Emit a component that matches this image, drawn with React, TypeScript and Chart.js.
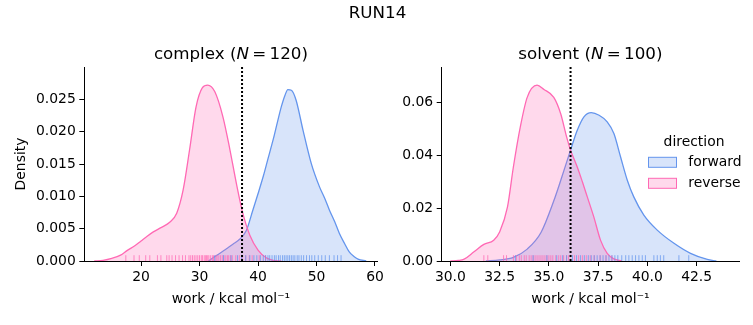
import React, { useEffect, useRef } from 'react';
import { Chart, registerables } from 'chart.js';

Chart.register(...registerables);

const FONT = 'DejaVu Sans';
const TICK_SIZE = 13.9;
const TITLE_SIZE = 16.7;
const BLUE = '#6495ED';
const PINK = '#FF69B4';
const BLUE_FILL = 'rgba(100,149,237,0.25)';
const PINK_FILL = 'rgba(255,105,180,0.25)';
const BLUE_RUG = 'rgba(100,149,237,0.75)';
const PINK_RUG = 'rgba(255,105,180,0.75)';

const directions = ['forward', 'reverse'];
const mainTitle = 'RUN14';
const xTitle = 'work / kcal mol\u207B\u00B9';

// ---------- complex panel ----------
const complexLabel = 'complex';
const complexN = 120;
const complexXRange = [10.3, 60.43];
const complexYMax = 0.03;
const complexXTicks = [20, 30, 40, 50, 60];
const complexYTicks = [0, 0.005, 0.01, 0.015, 0.02, 0.025];
const complexEstimate = 37.27;

const complexFwdX = [31.5, 32.3, 33.5, 34.6, 35.7, 36.9, 38.0, 39.1, 40.0, 40.9, 41.7, 42.6, 43.3, 44.0, 44.6, 45.1, 45.7, 46.5, 47.7, 49.1, 50.5, 51.4, 52.2, 53.1, 53.9, 54.8, 55.6, 56.4, 57.1, 58.5];
const complexFwdY = [0, 0.0005, 0.0012, 0.0019, 0.0026, 0.0034, 0.0047, 0.0078, 0.0104, 0.0131, 0.0158, 0.0188, 0.0214, 0.0239, 0.0256, 0.0265, 0.0264, 0.0249, 0.0202, 0.0151, 0.0115, 0.0097, 0.0079, 0.0061, 0.0043, 0.0027, 0.0014, 0.0007, 0.0003, 0];

const complexRevX = [12.0, 13.5, 15.0, 16.5, 17.6, 19.0, 20.0, 21.0, 22.1, 23.5, 24.9, 26.1, 27.2, 28.3, 29.4, 30.5, 31.4, 32.6, 34.0, 35.2, 36.3, 37.4, 38.6, 40.0, 41.4, 42.6, 44.0];
const complexRevY = [0, 0.0001, 0.0004, 0.0009, 0.0016, 0.0024, 0.0031, 0.0038, 0.0045, 0.0052, 0.0060, 0.0074, 0.0110, 0.0172, 0.0238, 0.0268, 0.0272, 0.0262, 0.0223, 0.0172, 0.0120, 0.0074, 0.0040, 0.0017, 0.0005, 0.0001, 0];

const complexFwdRug = [32.6, 34.1, 35.4, 36.5, 37.2, 37.9, 38.6, 39.3, 39.8, 40.4, 40.9, 41.3, 41.7, 42.0, 42.4, 42.8, 43.1, 43.5, 43.8, 44.2, 44.5, 44.8, 45.1, 45.4, 45.7, 46.0, 46.3, 46.7, 47.0, 47.4, 47.8, 48.3, 48.8, 49.2, 49.7, 50.3, 50.9, 51.5, 52.2, 53.0, 53.6, 54.2];
const complexRevRug = [17.4, 18.8, 19.7, 20.8, 21.5, 22.8, 23.4, 24.4, 24.8, 25.3, 25.9, 26.5, 27.1, 27.6, 28.2, 28.5, 28.8, 29.1, 29.4, 29.7, 30.0, 30.3, 30.5, 30.8, 31.0, 31.2, 31.4, 31.6, 31.9, 32.2, 32.4, 32.8, 33.0, 33.3, 33.6, 33.9, 34.2, 34.5, 34.8, 35.0, 35.3, 35.6, 36.2, 36.8, 37.3, 37.9, 38.5, 39.0, 40.2, 41.3];

// ---------- solvent panel ----------
const solventLabel = 'solvent';
const solventN = 100;
const solventXRange = [29.56, 44.65];
const solventYMax = 0.0735;
const solventXTicks = [30, 32.5, 35, 37.5, 40, 42.5];
const solventYTicks = [0, 0.02, 0.04, 0.06];
const solventEstimate = 36.1;

const solventFwdX = [31.8, 32.5, 33.2, 33.9, 34.6, 35.25, 35.6, 36.1, 36.44, 36.78, 37.15, 37.55, 37.96, 38.3, 38.64, 38.98, 39.31, 39.82, 40.5, 41.35, 42.19, 43.04, 43.5];
const solventFwdY = [0, 0.0004, 0.0014, 0.0045, 0.0108, 0.0228, 0.0305, 0.0420, 0.0495, 0.0546, 0.0562, 0.0552, 0.0527, 0.0483, 0.0394, 0.0306, 0.0243, 0.0174, 0.0117, 0.0067, 0.0029, 0.0006, 0];

const solventRevX = [30.0, 30.4, 30.7, 31.2, 31.7, 32.2, 32.5, 32.9, 33.2, 33.55, 33.9, 34.4, 34.75, 35.25, 35.6, 35.9, 36.1, 36.44, 36.7, 36.95, 37.28, 37.62, 37.96, 38.3, 38.7];
const solventRevY = [0, 0.0002, 0.0007, 0.0035, 0.0063, 0.0079, 0.0110, 0.0205, 0.0357, 0.0508, 0.0620, 0.0666, 0.0650, 0.0620, 0.0558, 0.0470, 0.0420, 0.0356, 0.0300, 0.0243, 0.0167, 0.0079, 0.0029, 0.0008, 0];

const solventFwdRug = [33.3, 34.2, 34.9, 35.4, 35.7, 35.9, 36.2, 36.4, 36.6, 36.8, 37.0, 37.15, 37.3, 37.45, 37.6, 37.75, 37.9, 38.05, 38.2, 38.35, 38.5, 38.7, 38.9, 39.06, 39.23, 39.4, 39.57, 39.74, 39.9, 40.33, 40.5, 40.66, 40.83, 41.6, 42.1];
const solventRevRug = [31.7, 31.9, 32.7, 32.85, 33.2, 33.35, 33.5, 33.6, 33.75, 33.85, 34.0, 34.1, 34.2, 34.3, 34.4, 34.5, 34.6, 34.7, 34.8, 34.9, 35.0, 35.1, 35.2, 35.35, 35.5, 35.6, 35.75, 35.9, 36.0, 36.3, 36.5, 36.7, 36.9, 37.1, 37.3, 37.6, 37.9, 38.2];

type Panel = {
  label: string;
  n: number;
  xRange: number[];
  yMax: number;
  xTicks: number[];
  yTicks: number[];
  xDecimals: number;
  yDecimals: number;
  estimate: number;
  fwdX: number[];
  fwdY: number[];
  revX: number[];
  revY: number[];
  fwdRug: number[];
  revRug: number[];
  padding: { left: number; right: number; top: number; bottom: number };
  yAxisWidth: number;
  showYTitle: boolean;
  showLegend: boolean;
};

const pts = (xs: number[], ys: number[]) => xs.map((x, i) => ({ x, y: ys[i] }));

function drawSegments(ctx: CanvasRenderingContext2D, segs: { t: string; italic?: boolean }[], cx: number, y: number, size: number) {
  const fonts = segs.map((s) => `${s.italic ? 'italic ' : ''}${size}px "${FONT}"`);
  const widths = segs.map((s, i) => {
    ctx.font = fonts[i];
    return ctx.measureText(s.t).width;
  });
  const total = widths.reduce((a, b) => a + b, 0);
  let x = cx - total / 2;
  ctx.textAlign = 'left';
  ctx.textBaseline = 'alphabetic';
  ctx.fillStyle = '#000';
  segs.forEach((s, i) => {
    ctx.font = fonts[i];
    ctx.fillText(s.t, x, y);
    x += widths[i];
  });
}

function makeConfig(p: Panel): any {
  const tickFont = { family: FONT, size: TICK_SIZE };
  const rugY = p.yMax * 0.015;
  const rugStyle = {
    type: 'line',
    showLine: false,
    pointStyle: 'line',
    rotation: 90,
    pointRadius: 2.9,
    pointHoverRadius: 2.9,
    pointBorderWidth: 1,
    fill: false,
  };
  const panelTitle = {
    id: 'panelTitle',
    afterDraw(chart: any) {
      const { ctx, chartArea } = chart;
      ctx.save();
      drawSegments(
        ctx,
        [{ t: `${p.label} (` }, { t: 'N', italic: true }, { t: `\u2009=\u2009${p.n})` }],
        (chartArea.left + chartArea.right) / 2,
        chartArea.top - 7.8,
        TITLE_SIZE
      );
      if (p.showLegend) {
        drawSegments(ctx, [{ t: mainTitle }], 377.5, 18, TITLE_SIZE);
        ctx.font = `${TICK_SIZE}px "${FONT}"`;
        ctx.textAlign = 'center';
        ctx.fillStyle = '#000';
        ctx.fillText('direction', 694, 146);
        const rows = [
          { name: directions[0], line: BLUE, fill: BLUE_FILL, top: 157.3, base: 166 },
          { name: directions[1], line: PINK, fill: PINK_FILL, top: 178.3, base: 187 },
        ];
        rows.forEach((r) => {
          ctx.fillStyle = r.fill;
          ctx.fillRect(648.5, r.top, 28, 10);
          ctx.strokeStyle = r.line;
          ctx.lineWidth = 1;
          ctx.strokeRect(648.5, r.top, 28, 10);
          ctx.fillStyle = '#000';
          ctx.textAlign = 'left';
          ctx.fillText(r.name, 688.3, r.base);
        });
      }
      ctx.restore();
    },
  };

  return {
    type: 'line',
    data: {
      datasets: [
        {
          label: 'estimate',
          data: [
            { x: p.estimate, y: 0 },
            { x: p.estimate, y: p.yMax },
          ],
          borderColor: '#000',
          borderWidth: 2,
          borderDash: [2, 2],
          pointRadius: 0,
          fill: false,
        },
        { ...rugStyle, label: 'fwdRug', data: p.fwdRug.map((x) => ({ x, y: rugY })), borderColor: BLUE_RUG, pointBorderColor: BLUE_RUG },
        { ...rugStyle, label: 'revRug', data: p.revRug.map((x) => ({ x, y: rugY })), borderColor: PINK_RUG, pointBorderColor: PINK_RUG },
        {
          label: directions[1],
          data: pts(p.revX, p.revY),
          borderColor: PINK,
          backgroundColor: PINK_FILL,
          borderWidth: 1.3,
          pointRadius: 0,
          fill: 'origin',
          cubicInterpolationMode: 'monotone',
        },
        {
          label: directions[0],
          data: pts(p.fwdX, p.fwdY),
          borderColor: BLUE,
          backgroundColor: BLUE_FILL,
          borderWidth: 1.3,
          pointRadius: 0,
          fill: 'origin',
          cubicInterpolationMode: 'monotone',
        },
      ],
    },
    options: {
      responsive: false,
      animation: false,
      events: [],
      layout: { padding: p.padding },
      plugins: { legend: { display: false }, tooltip: { enabled: false }, title: { display: false } },
      scales: {
        x: {
          type: 'linear',
          min: p.xRange[0],
          max: p.xRange[1],
          afterBuildTicks: (s: any) => {
            s.ticks = p.xTicks.map((v) => ({ value: v }));
          },
          afterFit: (s: any) => {
            s.height = 64;
          },
          grid: { display: true, drawOnChartArea: false, drawTicks: true, tickLength: 5, tickWidth: 1, tickColor: '#000' },
          border: { display: true, color: '#000', width: 1 },
          ticks: {
            color: '#000',
            font: tickFont,
            padding: 3,
            maxRotation: 0,
            autoSkip: false,
            callback: (v: number) => v.toFixed(p.xDecimals),
          },
          title: { display: true, text: xTitle, color: '#000', font: tickFont, padding: { top: 0, bottom: 17.7 } },
        },
        y: {
          type: 'linear',
          min: 0,
          max: p.yMax,
          afterBuildTicks: (s: any) => {
            s.ticks = p.yTicks.map((v) => ({ value: v }));
          },
          afterFit: (s: any) => {
            s.width = p.yAxisWidth;
          },
          grid: { display: true, drawOnChartArea: false, drawTicks: true, tickLength: 5, tickWidth: 1, tickColor: '#000' },
          border: { display: true, color: '#000', width: 1 },
          ticks: {
            color: '#000',
            font: tickFont,
            padding: 3.5,
            autoSkip: false,
            callback: (v: number) => v.toFixed(p.yDecimals),
          },
          title: { display: p.showYTitle, text: 'Density', color: '#000', font: tickFont, padding: { top: 12.7, bottom: 0 } },
        },
      },
    },
    plugins: [panelTitle],
  };
}

const complexPanel: Panel = {
  label: complexLabel,
  n: complexN,
  xRange: complexXRange,
  yMax: complexYMax,
  xTicks: complexXTicks,
  yTicks: complexYTicks,
  xDecimals: 0,
  yDecimals: 3,
  estimate: complexEstimate,
  fwdX: complexFwdX,
  fwdY: complexFwdY,
  revX: complexRevX,
  revY: complexRevY,
  fwdRug: complexFwdRug,
  revRug: complexRevRug,
  padding: { left: 0, right: 753 - 377.5, top: 67, bottom: 0 },
  yAxisWidth: 84.3,
  showYTitle: true,
  showLegend: false,
};

const solventPanel: Panel = {
  label: solventLabel,
  n: solventN,
  xRange: solventXRange,
  yMax: solventYMax,
  xTicks: solventXTicks,
  yTicks: solventYTicks,
  xDecimals: 1,
  yDecimals: 2,
  estimate: solventEstimate,
  fwdX: solventFwdX,
  fwdY: solventFwdY,
  revX: solventRevX,
  revY: solventRevY,
  fwdRug: solventFwdRug,
  revRug: solventRevRug,
  padding: { left: 380, right: 14, top: 67, bottom: 0 },
  yAxisWidth: 61.7,
  showYTitle: false,
  showLegend: true,
};

export default function App() {
  const ref1 = useRef<HTMLCanvasElement>(null);
  const ref2 = useRef<HTMLCanvasElement>(null);

  useEffect(() => {
    const c1 = new Chart(ref1.current as HTMLCanvasElement, makeConfig(complexPanel));
    const c2 = new Chart(ref2.current as HTMLCanvasElement, makeConfig(solventPanel));
    return () => {
      c1.destroy();
      c2.destroy();
    };
  }, []);

  const canvasStyle: React.CSSProperties = { position: 'absolute', left: 0, top: 0, width: 753, height: 325 };
  return (
    <div style={{ position: 'fixed', left: 0, top: 0, width: 753, height: 325, background: '#fff' }}>
      <canvas ref={ref1} width={753} height={325} style={canvasStyle} />
      <canvas ref={ref2} width={753} height={325} style={canvasStyle} />
    </div>
  );
}
